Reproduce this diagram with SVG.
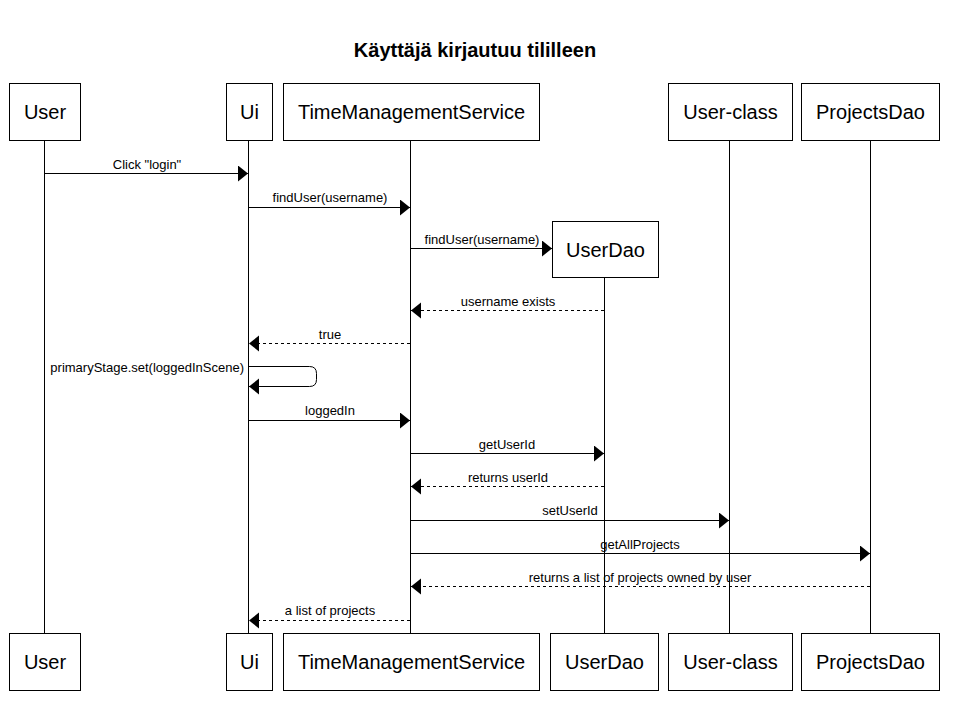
<svg xmlns="http://www.w3.org/2000/svg" width="954" height="702" viewBox="0 0 954 702">
<style>
.box{fill:#fff;stroke:#000;stroke-width:1}
.life{stroke:#000;stroke-width:1;fill:none}
.nt{font-family:"Liberation Sans",Arial,sans-serif;font-size:20px;text-anchor:middle;fill:#000}
.msg{stroke:#000;stroke-width:1;fill:none;marker-end:url(#ah)}
.ret{stroke-dasharray:3 3}
.lbl{font-family:"Liberation Sans",Arial,sans-serif;font-size:13px;text-anchor:middle;fill:#000}
.title{font-family:"Liberation Sans",Arial,sans-serif;font-size:20px;font-weight:bold;text-anchor:middle;fill:#000}
</style>
<defs>
<marker id="ah" markerUnits="userSpaceOnUse" markerWidth="12" markerHeight="18" refX="10" refY="8" orient="auto">
<path d="M0,0 L10,8 L0,16 Z" fill="#000" stroke="none"/>
</marker>
</defs>
<rect width="954" height="702" fill="#fff"/>
<text class="title" x="475" y="57">Käyttäjä kirjautuu tililleen</text>

<g id="lifelines">
<line class="life" x1="44.5" y1="140" x2="44.5" y2="633"/>
<line class="life" x1="248.5" y1="140" x2="248.5" y2="633"/>
<line class="life" x1="410.5" y1="140" x2="410.5" y2="633"/>
<line class="life" x1="604.5" y1="277" x2="604.5" y2="633"/>
<line class="life" x1="729.5" y1="140" x2="729.5" y2="633"/>
<line class="life" x1="870.5" y1="140" x2="870.5" y2="633"/>
</g>

<g id="node-user-top"><rect class="box" x="9.5" y="83.5" width="71" height="57"/><text class="nt" x="45" y="119">User</text></g>
<g id="node-ui-top"><rect class="box" x="226.5" y="83.5" width="46" height="57"/><text class="nt" x="249.5" y="119">Ui</text></g>
<g id="node-tms-top"><rect class="box" x="283.5" y="83.5" width="256" height="57"/><text class="nt" x="411.5" y="119">TimeManagementService</text></g>
<g id="node-userclass-top"><rect class="box" x="668.5" y="83.5" width="124" height="57"/><text class="nt" x="730.5" y="119">User-class</text></g>
<g id="node-projectsdao-top"><rect class="box" x="801.5" y="83.5" width="138" height="57"/><text class="nt" x="870.5" y="119">ProjectsDao</text></g>
<g id="node-userdao-top"><rect class="box" x="552.5" y="221.5" width="106" height="56"/><text class="nt" x="605.5" y="257">UserDao</text></g>

<g id="node-user-bottom"><rect class="box" x="9.5" y="633.5" width="71" height="57"/><text class="nt" x="45" y="669">User</text></g>
<g id="node-ui-bottom"><rect class="box" x="226.5" y="633.5" width="46" height="57"/><text class="nt" x="249.5" y="669">Ui</text></g>
<g id="node-tms-bottom"><rect class="box" x="283.5" y="633.5" width="256" height="57"/><text class="nt" x="411.5" y="669">TimeManagementService</text></g>
<g id="node-userdao-bottom"><rect class="box" x="550.5" y="633.5" width="108" height="57"/><text class="nt" x="604.5" y="669">UserDao</text></g>
<g id="node-userclass-bottom"><rect class="box" x="668.5" y="633.5" width="124" height="57"/><text class="nt" x="730.5" y="669">User-class</text></g>
<g id="node-projectsdao-bottom"><rect class="box" x="801.5" y="633.5" width="138" height="57"/><text class="nt" x="870.5" y="669">ProjectsDao</text></g>

<g id="connectors">
<line class="msg" x1="45" y1="173.5" x2="248" y2="173.5"/>
<text class="lbl" x="147" y="169">Click "login"</text>

<line class="msg" x1="249" y1="207.5" x2="410" y2="207.5"/>
<text class="lbl" x="330" y="202">findUser(username)</text>

<line class="msg" x1="411" y1="248.5" x2="552" y2="248.5"/>
<text class="lbl" x="482" y="244">findUser(username)</text>

<line class="msg ret" x1="604" y1="310.5" x2="411" y2="310.5"/>
<text class="lbl" x="508" y="306">username exists</text>

<line class="msg ret" x1="410" y1="343.5" x2="249" y2="343.5"/>
<text class="lbl" x="330" y="339">true</text>

<path class="msg" d="M249,366.5 H309.5 Q316.5,366.5 316.5,373.5 V379.5 Q316.5,386.5 309.5,386.5 H249"/>
<text class="lbl" x="244" y="372" style="text-anchor:end">primaryStage.set(loggedInScene)</text>

<line class="msg" x1="249" y1="420.5" x2="410" y2="420.5"/>
<text class="lbl" x="330" y="415">loggedIn</text>

<line class="msg" x1="411" y1="453.5" x2="604" y2="453.5"/>
<text class="lbl" x="507" y="449">getUserId</text>

<line class="msg ret" x1="604" y1="486.5" x2="411" y2="486.5"/>
<text class="lbl" x="508" y="482">returns userId</text>

<line class="msg" x1="411" y1="520.5" x2="729" y2="520.5"/>
<text class="lbl" x="570" y="515">setUserId</text>

<line class="msg" x1="411" y1="553.5" x2="870" y2="553.5"/>
<text class="lbl" x="640" y="549">getAllProjects</text>

<line class="msg ret" x1="870" y1="586.5" x2="411" y2="586.5"/>
<text class="lbl" x="640" y="582">returns a list of projects owned by user</text>

<line class="msg ret" x1="410" y1="620.5" x2="249" y2="620.5"/>
<text class="lbl" x="330" y="615">a list of projects</text>
</g>
</svg>
